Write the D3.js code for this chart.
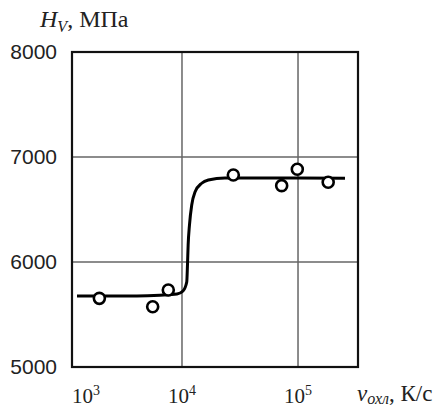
<!DOCTYPE html>
<html>
<head>
<meta charset="utf-8">
<style>
  body { margin: 0; background: #fff; }
  svg { display: block; }
  .ylab { font-family: "Liberation Sans", Arial, sans-serif; font-size: 21px; fill: #222; }
  .serif { font-family: "Liberation Serif", "Times New Roman", serif; fill: #222; }
</style>
</head>
<body>
<script src="https://cdn.jsdelivr.net/npm/d3@7"></script>
<script>
  // measured points (cooling rate K/s, hardness MPa)
  var pointRate = [1940, 5590, 7620, 27700, 72300, 98600, 182000];
  var pointHv   = [5654, 5574, 5733, 6829, 6727, 6883, 6759];

  // hand drawn fitted curve
  var curveRate = [1245, 4090, 6460, 9060, 10200, 10990, 11150, 11300, 11600, 12130, 12950, 14780, 16870, 23480, 69950, 254000];
  var curveHv   = [5676, 5676, 5683, 5695, 5724, 5810, 5971, 6162, 6352, 6543, 6667, 6750, 6781, 6800, 6800, 6797];

  var yTicks = [5000, 6000, 7000, 8000];
  var xTicks = [1e3, 1e4, 1e5];
  var xTickExp = ["3", "4", "5"];
  var xGrid = [1e4, 1e5];
  var yGrid = [6000, 7000];

  var W = 446, H = 408;
  var pLeft = 72, pRight = 358, pTop = 52, pBottom = 367;

  var svg = d3.select("body").append("svg")
      .attr("width", W)
      .attr("height", H);

  var x = d3.scaleLog()
      .domain([Math.pow(10, 3.052), Math.pow(10, 5.517)])
      .range([pLeft, pRight]);
  var y = d3.scaleLinear()
      .domain([5000, 8000])
      .range([pBottom, pTop]);

  // grid
  svg.append("g").selectAll("line")
      .data(xGrid).enter().append("line")
      .attr("x1", d => x(d)).attr("x2", d => x(d))
      .attr("y1", pTop).attr("y2", pBottom)
      .attr("stroke", "#666").attr("stroke-width", 1.5);
  svg.append("g").selectAll("line")
      .data(yGrid).enter().append("line")
      .attr("x1", pLeft).attr("x2", pRight)
      .attr("y1", d => y(d)).attr("y2", d => y(d))
      .attr("stroke", "#666").attr("stroke-width", 1.5);

  // frame
  svg.append("rect")
      .attr("x", pLeft).attr("y", pTop)
      .attr("width", pRight - pLeft).attr("height", pBottom - pTop)
      .attr("fill", "none").attr("stroke", "#111").attr("stroke-width", 2.2);

  // y tick labels
  var yAxis = svg.append("g")
      .attr("transform", "translate(" + (pLeft - 15) + ",0)")
      .call(d3.axisLeft(y).tickValues(yTicks).tickSize(0).tickFormat(d3.format("d")));
  yAxis.select(".domain").remove();
  yAxis.attr("font-size", null).attr("font-family", null);
  yAxis.selectAll("text").attr("class", "ylab").attr("x", 0);

  // x tick labels, 10^n
  var xl = svg.append("g").selectAll("text")
      .data(xTicks).enter().append("text")
      .attr("class", "serif")
      .attr("font-size", 21)
      .attr("y", 403)
      .attr("x", d => Math.max(x(d), pLeft))
      .attr("text-anchor", d => x(d) < pLeft ? "start" : "middle");
  xl.append("tspan").text("10");
  xl.append("tspan").attr("dy", -8).attr("font-size", 14).text((d, i) => xTickExp[i]);

  // fitted curve
  var curveData = curveRate.map((r, i) => [r, curveHv[i]]);
  svg.append("path")
      .datum(curveData)
      .attr("fill", "none")
      .attr("stroke", "#000")
      .attr("stroke-width", 3)
      .attr("d", d3.line().x(d => x(d[0])).y(d => y(d[1])).curve(d3.curveMonotoneX));

  // points
  svg.append("g").selectAll("circle")
      .data(pointRate.map((r, i) => [r, pointHv[i]]))
      .enter().append("circle")
      .attr("cx", d => x(d[0]))
      .attr("cy", d => y(d[1]))
      .attr("r", 5.5)
      .attr("fill", "#fff")
      .attr("stroke", "#000")
      .attr("stroke-width", 2.6);

  // y title
  var yt = svg.append("text").attr("class", "serif").attr("font-size", 24)
      .attr("x", 40).attr("y", 27);
  yt.append("tspan").attr("font-style", "italic").text("H");
  yt.append("tspan").attr("font-style", "italic").attr("font-size", 16).attr("dy", 5).text("V");
  yt.append("tspan").attr("dy", -5).text(", МПа");

  // x title
  var xt = svg.append("text").attr("class", "serif").attr("font-size", 23)
      .attr("x", 357).attr("y", 401);
  xt.append("tspan").attr("font-style", "italic").text("v");
  xt.append("tspan").attr("font-style", "italic").attr("font-size", 16).attr("dy", 3).text("охл");
  xt.append("tspan").attr("dy", -3).text(", К/с");
</script>
</body>
</html>
